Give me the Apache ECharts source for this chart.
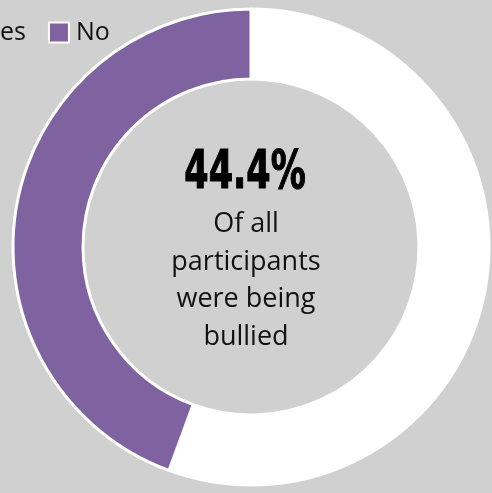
<!DOCTYPE html>
<html>
<head>
<meta charset="utf-8">
<script src="https://cdn.jsdelivr.net/npm/echarts@6/dist/echarts.min.js"></script>
<style>
  html, body { margin: 0; padding: 0; background: #d0d0d0; }
  #chart { width: 492px; height: 493px; }
</style>
</head>
<body>
<div id="chart"></div>
<script>
// Survey answers: share of participants
const categories = ['Yes', 'No'];
const values = [55.6, 44.4];
const sliceColors = ['#ffffff', '#7e63a0'];
const captionLines = ['Of all', 'participants', 'were being', 'bullied'];

const chart = echarts.init(document.getElementById('chart'), null, { renderer: 'canvas' });

const highlight = values[categories.indexOf('No')];

chart.setOption({
  backgroundColor: '#d0d0d0',
  animation: false,
  color: sliceColors,
  legend: {
    data: categories,
    left: -47,
    top: 15,
    itemWidth: 20,
    itemHeight: 20,
    itemGap: 22,
    icon: 'rect',
    itemStyle: { borderColor: '#ffffff', borderWidth: 2 },
    textStyle: { fontFamily: 'Open Sans', fontSize: 25, color: '#111', padding: [0, 0, 0, 2] }
  },
  series: [{
    type: 'pie',
    center: [251, 247],
    radius: [168, 238],
    startAngle: 90,
    clockwise: true,
    label: { show: false },
    labelLine: { show: false },
    emphasis: { disabled: true },
    itemStyle: { borderColor: '#ffffff', borderWidth: 3 },
    data: categories.map((name, i) => ({ name, value: values[i] }))
  }],
  graphic: [
    {
      type: 'text',
      x: 245,
      y: 174,
      scaleX: 0.72,
      style: {
        text: highlight.toFixed(1) + '%',
        font: 'bold 54px "Liberation Sans Narrow", "DejaVu Sans Condensed", sans-serif',
        fill: '#000',
        stroke: '#000',
        lineWidth: 1.2,
        align: 'center',
        verticalAlign: 'middle'
      }
    },
    {
      type: 'text',
      x: 246,
      y: 206,
      style: {
        text: captionLines.join('\n'),
        font: '27px "Open Sans", sans-serif',
        lineHeight: 37.5,
        fill: '#111',
        align: 'center',
        verticalAlign: 'top'
      }
    }
  ]
});
</script>
</body>
</html>
